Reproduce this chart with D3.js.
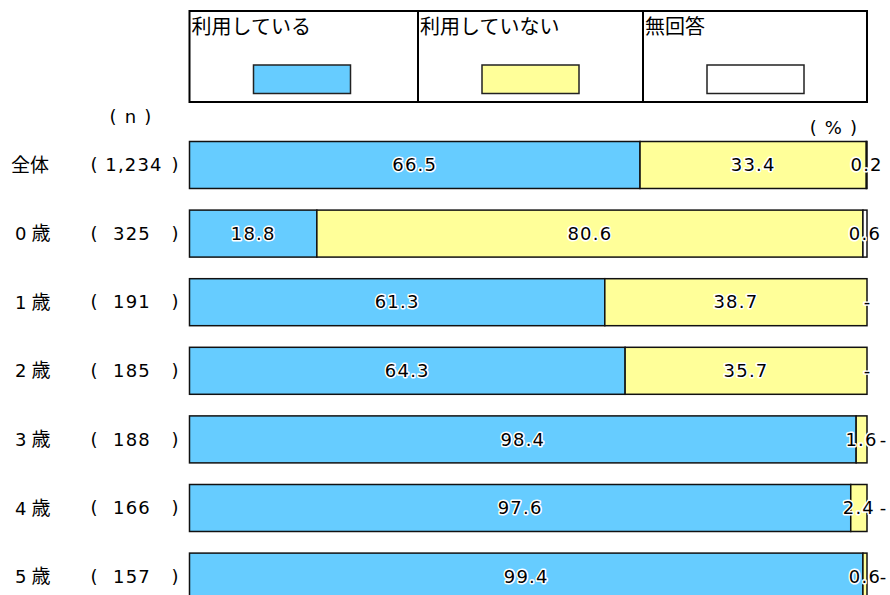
<!DOCTYPE html>
<html>
<head>
<meta charset="utf-8">
<script src="https://cdn.jsdelivr.net/npm/d3@7"></script>
<style>
  body { margin: 0; background: #fff; }
  text { font-family: "DejaVu Sans", "Noto Sans CJK JP", sans-serif; fill: #000; }
  .jp { font-family: "Noto Sans CJK JP", sans-serif; }
</style>
</head>
<body>
<div id="chart"></div>
<script>
// data
const categories = ['全体', '0歳', '1歳', '2歳', '3歳', '4歳', '5歳'];
const nLabels = ['1,234', '325', '191', '185', '188', '166', '157'];
const seriesNames = ['利用している', '利用していない', '無回答'];
const using = [66.5, 18.8, 61.3, 64.3, 98.4, 97.6, 99.4];
const notUsing = [33.4, 80.6, 38.7, 35.7, 1.6, 2.4, 0.6];
const noAnswer = [0.2, 0.6, 0, 0, 0, 0, 0];
const colors = ['#66ccff', '#ffff99', '#ffffff'];

const W = 890, H = 595;
const svg = d3.select('#chart').append('svg')
    .attr('width', W).attr('height', H);

const step = 68.6;
const x = d3.scaleLinear().domain([0, 100]).range([189.5, 867]);
const y = d3.scaleBand().domain(categories)
    .range([141.5, 141.5 + step * (categories.length - 0.315)])
    .paddingInner(0.315).paddingOuter(0);

//legend
const legX = [189.5, 418, 643, 867];
const leg = svg.append('g');
leg.append('rect')
    .attr('x', legX[0]).attr('y', 11)
    .attr('width', legX[3] - legX[0]).attr('height', 91)
    .attr('fill', 'none').attr('stroke', '#000').attr('stroke-width', 2);
seriesNames.forEach((name, i) => {
    if (i > 0) {
        leg.append('line')
            .attr('x1', legX[i]).attr('x2', legX[i])
            .attr('y1', 11).attr('y2', 102)
            .attr('stroke', '#000').attr('stroke-width', 2);
    }
    leg.append('text').attr('class', 'jp')
        .attr('x', legX[i] + 2).attr('y', 34)
        .attr('font-size', 20)
        .text(name);
    leg.append('rect')
        .attr('x', legX[i] + 64).attr('y', 65)
        .attr('width', 97).attr('height', 28.5)
        .attr('fill', colors[i]).attr('stroke', '#222').attr('stroke-width', 1.5);
});

const fs = 18, ls = 1.2;
svg.append('text').attr('x', 131).attr('y', 123).attr('font-size', fs)
    .attr('letter-spacing', ls).attr('text-anchor', 'middle').text('( n )');
svg.append('text').attr('x', 834).attr('y', 134).attr('font-size', fs)
    .attr('letter-spacing', ls).attr('text-anchor', 'middle').text('( % )');

// build stacked rows
const rows = categories.map((c, i) => ({cat: c, n: nLabels[i], vals: [using[i], notUsing[i], noAnswer[i]]}));

const rowG = svg.selectAll('g.row').data(rows).join('g').attr('class', 'row')
    .attr('transform', d => `translate(0,${y(d.cat)})`);
const bh = y.bandwidth();

rowG.each(function(d) {
    const g = d3.select(this);
    const lab = g.append('text').attr('y', bh / 2).attr('dy', '0.35em').attr('font-size', 19);
    if (d.cat === '全体') {
        lab.attr('class', 'jp').attr('x', 11).text(d.cat);
    } else {
        lab.attr('x', 15);
        lab.append('tspan').attr('font-size', fs).text(d.cat.slice(0, 1));
        lab.append('tspan').attr('class', 'jp').attr('dx', 5).text(d.cat.slice(1));
    }
});
rowG.append('text').attr('x', 94).attr('y', bh / 2).attr('dy', '0.35em')
    .attr('font-size', fs).attr('text-anchor', 'middle').text('(');
rowG.append('text').attr('x', 175).attr('y', bh / 2).attr('dy', '0.35em')
    .attr('font-size', fs).attr('text-anchor', 'middle').text(')');
rowG.append('text').attr('x', d => d.n.length > 3 ? 134 : 132).attr('y', bh / 2).attr('dy', '0.35em')
    .attr('font-size', fs).attr('letter-spacing', ls).attr('text-anchor', 'middle').text(d => d.n);

rowG.each(function(d) {
    const g = d3.select(this);
    let cum = 0;
    const segs = d.vals.map((v, k) => {
        const s = {k: k, v: v, x0: cum, x1: cum + v};
        cum += v;
        return s;
    });
    // normalise end to 100
    segs[segs.length - 1].x1 = 100;
    g.selectAll('rect.seg').data(segs.filter(s => s.v > 0)).join('rect')
        .attr('class', 'seg')
        .attr('x', s => x(s.x0)).attr('y', 0)
        .attr('width', s => x(s.x1) - x(s.x0)).attr('height', bh)
        .attr('fill', s => colors[s.k])
        .attr('stroke', '#111').attr('stroke-width', 1.5);

    let prevEndLabel = false;
    segs.forEach(s => {
        let lx = x((s.x0 + s.x1) / 2);
        const isZero = s.v === 0;
        if (isZero) {
            lx = prevEndLabel ? x(100) + 16 : x(100);
        }
        g.append('text')
            .attr('x', lx).attr('y', bh / 2).attr('dy', '0.35em')
            .attr('font-size', fs).attr('letter-spacing', isZero ? 0 : ls)
            .attr('text-anchor', 'middle')
            .attr('stroke', '#fff').attr('stroke-width', 3)
            .attr('stroke-linejoin', 'round').attr('paint-order', 'stroke')
            .text(isZero ? '-' : s.v.toFixed(1));
        prevEndLabel = !isZero && s.v < 5;
    });
});
</script>
</body>
</html>
